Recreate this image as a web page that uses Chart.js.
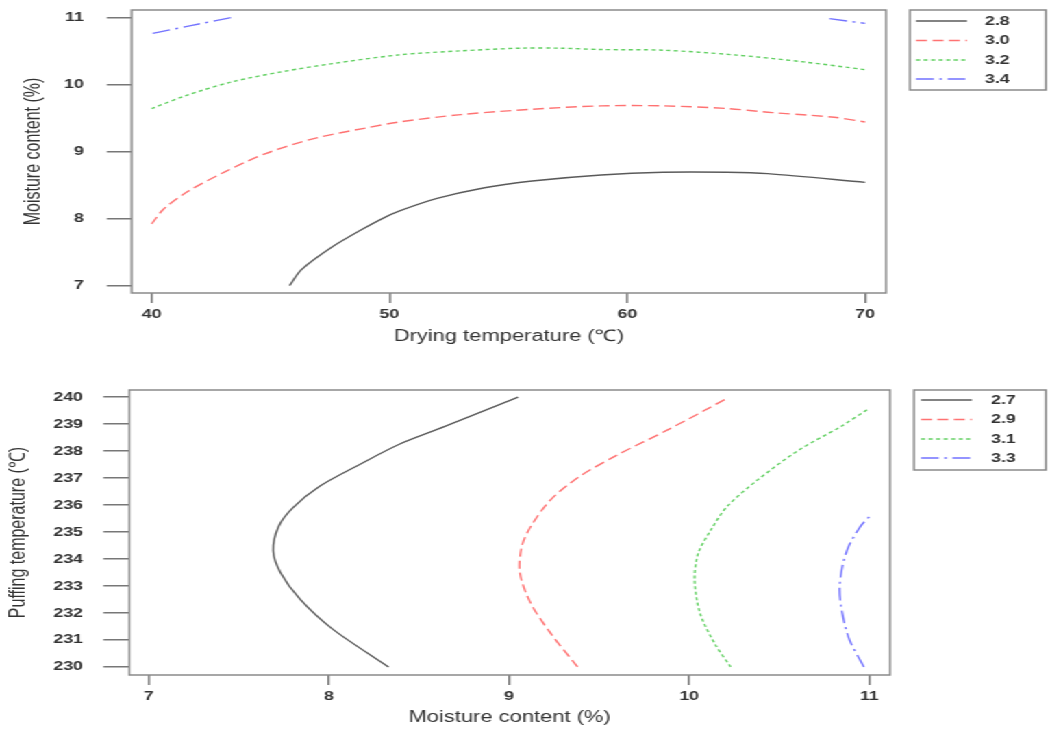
<!DOCTYPE html>
<html>
<head>
<meta charset="utf-8">
<script src="https://cdn.jsdelivr.net/npm/chart.js@4.4.1/dist/chart.umd.min.js"></script>
<style>
  html, body { margin: 0; padding: 0; background: #fff; overflow: hidden; }
  /* the original figure is stretched sideways, so draw narrow and stretch */
  #wrap { width: 765px; height: 730px; transform: scaleX(1.3699); transform-origin: 0 0; }
  .box { position: relative; width: 765px; height: 365px; }
</style>
</head>
<body>
<div id="wrap">
  <div class="box"><canvas id="topChart"></canvas></div>
  <div class="box"><canvas id="bottomChart"></canvas></div>
</div>
<script>
// ---- top plot: drying temperature vs moisture content ----
const topLevels = ['2.8', '3.0', '3.2', '3.4'];
const dryTempTicks = [40, 50, 60, 70];
const moistTicks = [7, 8, 9, 10, 11];

const top28X = [45.8, 46.3, 47.6, 48.8, 49.7, 50.4, 52, 54, 56, 58.9, 61.5, 64.2, 65.9, 70];
const top28Y = [7.0, 7.24, 7.58, 7.83, 8.0, 8.11, 8.3, 8.46, 8.56, 8.65, 8.69, 8.69, 8.67, 8.54];
const top30X = [40, 40.5, 41.5, 43.1, 44.8, 46.9, 49, 50.4, 53, 56, 58.9, 61.5, 64.2, 66.1, 68.7, 70];
const top30Y = [7.92, 8.14, 8.4, 8.7, 8.97, 9.2, 9.35, 9.44, 9.55, 9.63, 9.68, 9.68, 9.64, 9.58, 9.51, 9.44];
const top32X = [40, 41.5, 43.4, 45.5, 47.6, 50.4, 53, 55.5, 57.2, 58.9, 61.5, 64.5, 67.3, 70];
const top32Y = [9.64, 9.84, 10.04, 10.19, 10.31, 10.44, 10.5, 10.54, 10.54, 10.52, 10.51, 10.44, 10.34, 10.22];
const top34X = [40.05, 41.7, 43.4, 56, 68.5, 70];
const top34Y = [10.76, 10.88, 11.0, null, 10.98, 10.91];   // null = break between the two pieces

// ---- bottom plot: moisture content vs puffing temperature ----
const bottomLevels = ['2.7', '2.9', '3.1', '3.3'];
const moistXTicks = [7, 8, 9, 10, 11];
const puffTicks = [230, 231, 232, 233, 234, 235, 236, 237, 238, 239, 240];

const bot27X = [8.33, 8.02, 7.84, 7.73, 7.69, 7.72, 7.80, 7.95, 8.17, 8.39, 8.64, 9.05];
const bot27Y = [230.0, 231.4, 232.5, 233.5, 234.3, 235.2, 235.9, 236.7, 237.5, 238.25, 238.9, 240.0];
const bot29X = [9.38, 9.23, 9.12, 9.06, 9.07, 9.12, 9.23, 9.39, 9.6, 9.88, 10.21];
const bot29Y = [230.0, 231.25, 232.36, 233.47, 234.46, 235.2, 236.19, 237.05, 237.85, 238.78, 239.95];
const bot31X = [10.23, 10.14, 10.06, 10.03, 10.05, 10.12, 10.21, 10.38, 10.61, 10.84, 11.0];
const bot31Y = [230.0, 230.88, 231.99, 233.22, 234.21, 235.07, 235.94, 236.93, 238.04, 238.9, 239.58];
const bot33X = [10.97, 10.89, 10.85, 10.835, 10.85, 10.885, 10.95, 11.0];
const bot33Y = [230.0, 231.0, 231.99, 232.85, 233.71, 234.46, 235.2, 235.57];

const lineColors = ['#5a5a5a', '#ff7272', '#62d062', '#7272ff'];
const lineDashes = [[], [8, 4], [3, 2.5], [13, 4, 2, 4]];

Chart.defaults.font.family = '"Liberation Sans", Arial, sans-serif';
Chart.defaults.color = '#333';

function pts(xs, ys) {
    return xs.map((x, i) => ({x: x, y: ys[i]}));
}

function makeDatasets(levels, series) {
    return series.map((s, i) => ({
        label: levels[i],
        data: pts(s[0], s[1]),
        borderColor: lineColors[i],
        borderDash: lineDashes[i],
        borderWidth: 1.4,
        showLine: true,
        pointRadius: 0,
        tension: 0.3,
        spanGaps: false
    }));
}

// grey box round the plot region
const framePlugin = {
    id: 'frame',
    afterDraw(chart) {
        const {ctx, chartArea: {left, top, right, bottom}} = chart;
        ctx.save();
        ctx.strokeStyle = '#8a8a8a';
        ctx.lineWidth = 1.5;
        ctx.strokeRect(left, top, right - left, bottom - top);
        ctx.restore();
    }
};

// R-style legend box on the right
const boxLegend = {
    id: 'boxLegend',
    afterDraw(chart, args, opts) {
        const ctx = chart.ctx;
        ctx.save();
        ctx.strokeStyle = '#8a8a8a';
        ctx.lineWidth = 1.5;
        ctx.strokeRect(opts.x, opts.y, opts.w, opts.h);
        chart.data.datasets.forEach((ds, i) => {
            const y = opts.rows[i];
            ctx.strokeStyle = ds.borderColor;
            ctx.lineWidth = ds.borderWidth;
            ctx.setLineDash(ds.borderDash);
            ctx.beginPath();
            ctx.moveTo(opts.lineX0, y);
            ctx.lineTo(opts.lineX1, y);
            ctx.stroke();
            ctx.setLineDash([]);
            ctx.fillStyle = '#333';
            ctx.font = 'bold 13px "Liberation Sans", Arial, sans-serif';
            ctx.textAlign = 'left';
            ctx.textBaseline = 'middle';
            ctx.fillText(ds.label, opts.textX, y);
        });
        ctx.restore();
    }
};

// no extra room for labels at the ends, the plot box is placed by hand
function noEdgePadding(s) {
    s.paddingTop = 0;
    s.paddingBottom = 0;
    s.paddingLeft = 0;
    s.paddingRight = 0;
}

function createContourChart(id, datasets, ax, legendOpts) {
    const ctx = document.getElementById(id).getContext('2d');
    new Chart(ctx, {
        type: 'scatter',
        data: {datasets: datasets},
        options: {
            responsive: true,
            maintainAspectRatio: false,
            animation: false,
            layout: {padding: ax.padding},
            scales: {
                x: {
                    type: 'linear',
                    bounds: 'data',
                    min: ax.xMin, max: ax.xMax,
                    afterBuildTicks: s => { s.ticks = ax.xTicks.map(v => ({value: v})); },
                    afterFit: s => { s.height = ax.xHeight; noEdgePadding(s); },
                    grid: {drawOnChartArea: false, tickLength: 10, color: '#777', lineWidth: 1.5},
                    border: {display: false},
                    ticks: {padding: 4, color: '#333', font: {size: 13, weight: 'bold'}, maxRotation: 0, autoSkip: false},
                    title: {display: true, text: ax.xTitle, color: '#333', font: {size: 16},
                            padding: {top: 0, bottom: ax.xTitlePad}}
                },
                y: {
                    type: 'linear',
                    bounds: 'data',
                    min: ax.yMin, max: ax.yMax,
                    afterBuildTicks: s => { s.ticks = ax.yTicks.map(v => ({value: v})); },
                    afterFit: s => { s.width = ax.yWidth; noEdgePadding(s); },
                    grid: {drawOnChartArea: false, tickLength: ax.yTickLen, color: '#777', lineWidth: 1.5},
                    border: {display: false},
                    ticks: {padding: ax.yTickPad, color: '#333', font: {size: 13, weight: 'bold'}, autoSkip: false},
                    title: {display: true, text: ax.yTitle, color: '#333', font: {size: 16},
                            padding: {top: ax.yTitlePad, bottom: 0}}
                }
            },
            plugins: {
                legend: {display: false},
                tooltip: {enabled: false},
                boxLegend: legendOpts
            }
        },
        plugins: [framePlugin, boxLegend]
    });
}

createContourChart('topChart',
    makeDatasets(topLevels, [[top28X, top28Y], [top30X, top30Y], [top32X, top32Y], [top34X, top34Y]]),
    {
        padding: {left: 0, right: 118.2, top: 10, bottom: 0},
        xMin: 39.16, xMax: 70.88, xTicks: dryTempTicks, xHeight: 72,
        xTitle: 'Drying temperature (℃)', xTitlePad: 18.4,
        yMin: 6.891, yMax: 11.109, yTicks: moistTicks, yWidth: 96.1,
        yTickLen: 18.2, yTickPad: 16.6,
        yTitle: 'Moisture content (%)', yTitlePad: 15
    },
    {x: 664.2, y: 10, w: 99.3, h: 80, rows: [21, 40.5, 60, 79], lineX0: 668.7, lineX1: 705.9, textX: 719}
);

createContourChart('bottomChart',
    makeDatasets(bottomLevels, [[bot27X, bot27Y], [bot29X, bot29Y], [bot31X, bot31Y], [bot33X, bot33Y]]),
    {
        padding: {left: 0, right: 115.3, top: 25, bottom: 0},
        xMin: 6.891, xMax: 11.115, xTicks: moistXTicks, xHeight: 55,
        xTitle: 'Moisture content (%)', xTitlePad: 2.4,
        yMin: 229.70, yMax: 240.26, yTicks: puffTicks, yWidth: 94.4,
        yTickLen: 19, yTickPad: 14.8,
        yTitle: 'Puffing temperature (℃)', yTitlePad: 4.3
    },
    {x: 667.2, y: 25, w: 96.3, h: 80, rows: [35, 54.5, 74, 93], lineX0: 672.3, lineX1: 709.5, textX: 723.4}
);
</script>
</body>
</html>
